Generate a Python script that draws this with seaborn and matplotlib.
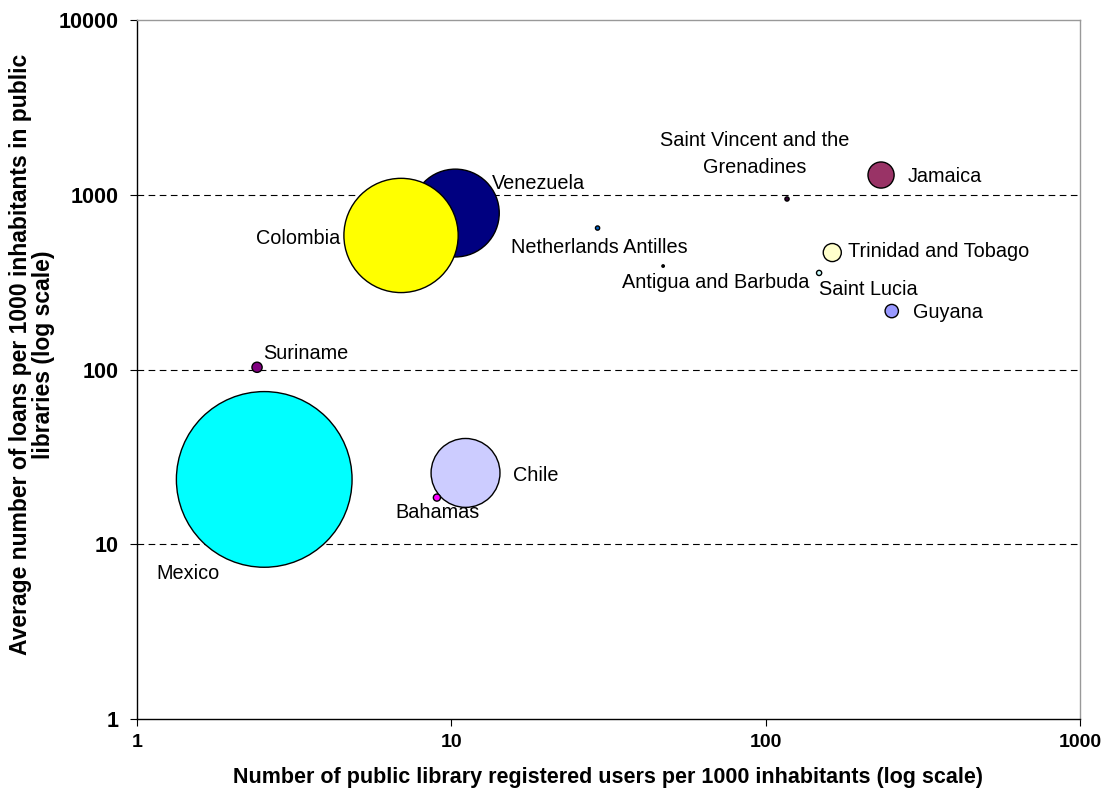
import pandas as pd
import matplotlib
matplotlib.use("Agg")
import matplotlib.pyplot as plt
import seaborn as sns
from matplotlib.ticker import FixedLocator, NullLocator, FixedFormatter

# drawing order matters: Venezuela sits under Colombia
countries = ["Mexico", "Venezuela", "Colombia", "Chile", "Bahamas", "Suriname",
             "Netherlands Antilles", "Antigua and Barbuda",
             "Saint Vincent and the\nGrenadines", "Saint Lucia",
             "Trinidad and Tobago", "Jamaica", "Guyana"]
users = [2.54, 10.3, 6.92, 11.1, 9.0, 2.41, 29.2, 47.2, 117, 148, 163, 233, 252]
loans = [23.5, 786, 585, 25.6, 18.5, 103, 645, 391, 946, 357, 467, 1297, 216]
population = [104, 26, 44, 16, 0.17, 0.35, 0.06, 0.02, 0.06, 0.09, 1.1, 2.3, 0.6]
colors = ["#00FFFF", "#000080", "#FFFF00", "#CCCCFF", "#FF00FF", "#800080",
          "#0066CC", "#000000", "#330033", "#CCFFFF", "#FFFFCC", "#993366",
          "#9999FF"]

df = pd.DataFrame({"country": countries, "users": users, "loans": loans,
                   "pop": population})

# label offsets in points relative to bubble centre, with alignment
label_pos = {
    "Mexico": (-78, -68, "left"),
    "Colombia": (-44, -2, "right"),
    "Venezuela": (26.5, 21, "left"),
    "Chile": (34, -1.5, "left"),
    "Bahamas": (-30, -11, "left"),
    "Suriname": (4.3, 10, "left"),
    "Netherlands Antilles": (1.5, -13.7, "center"),
    "Antigua and Barbuda": (-29.5, -12.2, "left"),
    "Saint Vincent and the\nGrenadines": (-23.4, 32.5, "center"),
    "Saint Lucia": (0, -12.2, "left"),
    "Trinidad and Tobago": (11.2, 1, "left"),
    "Jamaica": (19.4, -1.4, "left"),
    "Guyana": (15, -0.7, "left"),
}

sns.set_style("white")
plt.rcParams["font.family"] = ["Liberation Sans", "DejaVu Sans"]
plt.rcParams.update({"text.color": "black", "axes.labelcolor": "black",
                     "xtick.color": "black", "ytick.color": "black"})

fig = plt.figure(figsize=(11.11, 7.91), dpi=100)
ax = fig.add_axes([0.1233, 0.0910, 0.8487, 0.8837])

sns.scatterplot(data=df, x="users", y="loans", hue="country", size="pop",
                sizes=(0, 16000), size_norm=(0, 104),
                palette=dict(zip(countries, colors)), edgecolor="black",
                linewidth=1.0, legend=False, ax=ax, zorder=3, alpha=1)

ax.set_xscale("log")
ax.set_yscale("log")
ax.set_xlim(1, 1000)
ax.set_ylim(1, 10000)

for y in [10, 100, 1000]:
    ax.axhline(y, color="black", linestyle=(0, (6, 4)), linewidth=0.8, zorder=1)

for _, r in df.iterrows():
    dx, dy, ha = label_pos[r["country"]]
    ax.annotate(r["country"], (r["users"], r["loans"]), xytext=(dx, dy),
                textcoords="offset points", ha=ha, va="center",
                fontsize=14.3, color="black", multialignment="center",
                linespacing=1.5, zorder=4)

ax.xaxis.set_major_locator(FixedLocator([1, 10, 100, 1000]))
ax.xaxis.set_major_formatter(FixedFormatter(["1", "10", "100", "1000"]))
ax.xaxis.set_minor_locator(NullLocator())
ax.yaxis.set_major_locator(FixedLocator([1, 10, 100, 1000, 10000]))
ax.yaxis.set_major_formatter(FixedFormatter(["1", "10", "100", "1000", "10000"]))
ax.yaxis.set_minor_locator(NullLocator())
ax.tick_params(axis="both", direction="out", length=5, width=0.8, color="black",
               labelcolor="black", bottom=True, left=True)
ax.tick_params(axis="x", labelsize=14, pad=6)
ax.tick_params(axis="y", labelsize=15.5, pad=8.5)
for lab in ax.get_xticklabels() + ax.get_yticklabels():
    lab.set_fontweight("bold")

for side in ["left", "bottom"]:
    ax.spines[side].set_color("black")
    ax.spines[side].set_linewidth(1.0)
for side in ["top", "right"]:
    ax.spines[side].set_color("#999999")
    ax.spines[side].set_linewidth(1.0)

ax.set_xlabel("Number of public library registered users per 1000 inhabitants (log scale)",
              fontsize=15.5, fontweight="bold", labelpad=11, color="black")
ax.set_ylabel("Average number of loans per 1000 inhabitants in public\nlibraries (log scale)",
              fontsize=16.5, fontweight="bold", linespacing=1.0, color="black")
ax.yaxis.set_label_coords(-0.087, 0.521)

fig.savefig("out.png", dpi=100, facecolor="white")
